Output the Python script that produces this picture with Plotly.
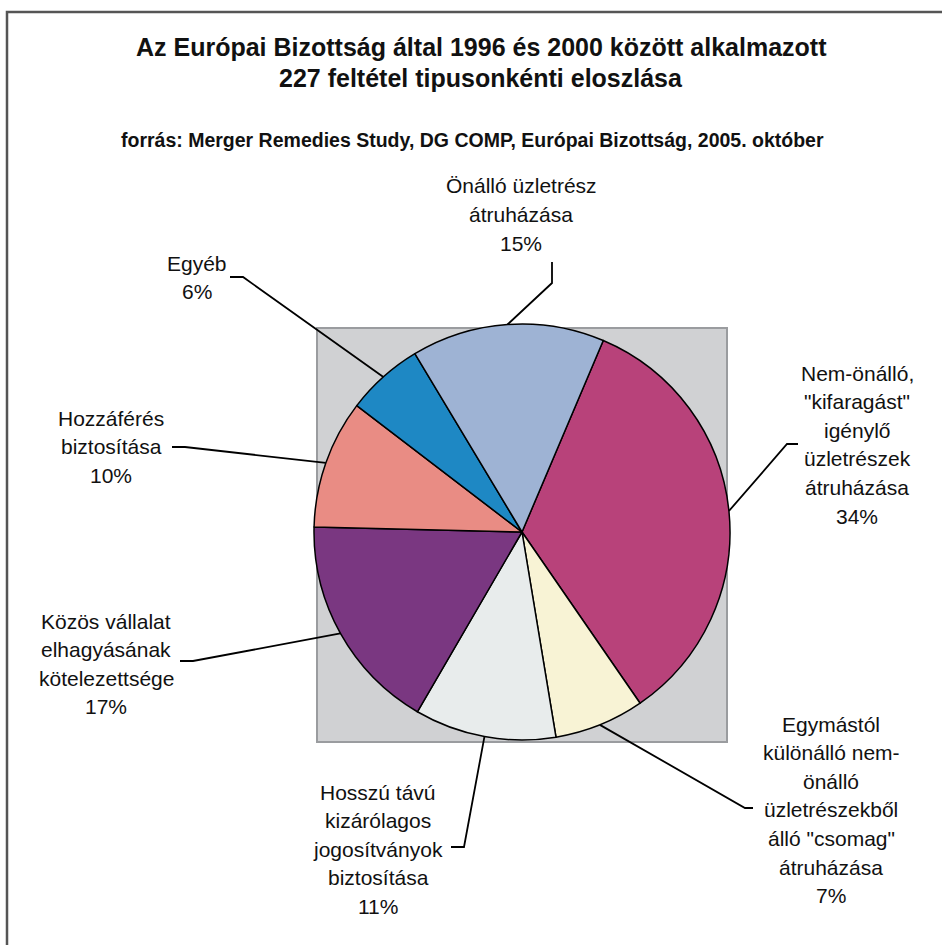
import math
import plotly.graph_objects as go

W, H = 942, 945

# ---- data ----
categories = [
    "Nem-önálló,<br>\"kifaragást\"<br>igénylő<br>üzletrészek<br>átruházása",
    "Egymástól<br>különálló nem-<br>önálló<br>üzletrészekből<br>álló \"csomag\"<br>átruházása",
    "Hosszú távú<br>kizárólagos<br>jogosítványok<br>biztosítása",
    "Közös vállalat<br>elhagyásának<br>kötelezettsége",
    "Hozzáférés<br>biztosítása",
    "Egyéb",
    "Önálló üzletrész<br>átruházása",
]
percent = [34, 7, 11, 17, 10, 6, 15]
colors = ["#B8427A", "#F8F3D5", "#E8ECEC", "#7A3781", "#E98C84", "#1E88C4", "#9EB3D4"]

title_lines = ["Az Európai Bizottság által 1996 és 2000 között alkalmazott",
               "227 feltétel tipusonkénti eloszlása"]
subtitle = "forrás: Merger Remedies Study, DG COMP, Európai Bizottság, 2005. október"

# ---- layout (pixel positions) ----
cx, cy, R = 522, 532, 208
rotation = 23
# label block: centre x, first line y
label_pos = [(857, 373), (831, 724), (378, 792), (106, 621), (111, 418), (197, 263), (521, 186)]
# leader: elbow point, end point
leader = [((787, 444), (798, 444)), ((745, 808), (753, 808)), ((464, 847), (451, 847)),
          ((193, 661), (180, 661)), ((185, 447), (172, 447)), ((243, 277), (230, 277)),
          ((552, 283), (552, 262))]
line_gap = 28.6
FONT = "Liberation Sans, Arial, sans-serif"


def px(x):
    return x / W


def py(y):
    return 1 - y / H


fig = go.Figure()
fig.add_trace(go.Pie(
    labels=[c.replace("<br>", " ") for c in categories],
    values=percent,
    sort=False,
    direction="clockwise",
    rotation=rotation,
    marker=dict(colors=colors, line=dict(color="#000000", width=1.5)),
    textinfo="none",
    hoverinfo="label+percent",
    showlegend=False,
    domain=dict(x=[px(cx - R), px(cx + R)], y=[py(cy + R), py(cy - R)]),
))

shapes = []
# outer frame (top & left)
shapes.append(dict(type="path", xref="paper", yref="paper",
                   path=f"M {px(7)},{py(H + 5)} L {px(7)},{py(12)} L {px(W + 5)},{py(12)}",
                   line=dict(color="#555555", width=2.5), layer="above"))
# grey plot area
shapes.append(dict(type="rect", xref="paper", yref="paper",
                   x0=px(317), x1=px(727), y0=py(742), y1=py(328),
                   fillcolor="#D0D1D3", line=dict(color="#9A9C9F", width=2), layer="below"))

annotations = []
total = sum(percent)
start = rotation
for i, (cat, v) in enumerate(zip(categories, percent)):
    span = v / total * 360
    mid = math.radians(start + span / 2)
    start += span
    ex, ey = cx + R * math.sin(mid), cy - R * math.cos(mid)
    (bx, by), (tx, ty) = leader[i]
    shapes.append(dict(type="path", xref="paper", yref="paper",
                       path=f"M {px(ex)},{py(ey)} L {px(bx)},{py(by)} L {px(tx)},{py(ty)}",
                       line=dict(color="#000000", width=1.8), layer="above"))
    lines = cat.split("<br>") + [f"{v}%"]
    lx, ly = label_pos[i]
    for k, t in enumerate(lines):
        annotations.append(dict(text=t, x=px(lx), y=py(ly + k * line_gap), xref="paper", yref="paper",
                                showarrow=False, xanchor="center", yanchor="middle",
                                font=dict(family=FONT, size=21, color="#111111")))

for k, t in enumerate(title_lines):
    annotations.append(dict(text=f"<b>{t}</b>", x=px(481), y=py(47 + k * 31), xref="paper", yref="paper",
                            showarrow=False, xanchor="center", yanchor="middle",
                            font=dict(family=FONT, size=25, color="#111111")))
annotations.append(dict(text=f"<b>{subtitle}</b>", x=px(472), y=py(140), xref="paper", yref="paper",
                        showarrow=False, xanchor="center", yanchor="middle",
                        font=dict(family=FONT, size=19.5, color="#111111")))

fig.update_layout(
    width=W, height=H,
    margin=dict(l=0, r=0, t=0, b=0),
    paper_bgcolor="#FFFFFF",
    plot_bgcolor="#FFFFFF",
    shapes=shapes,
    annotations=annotations,
)

fig.write_html("out.html", config={"displayModeBar": False},
               post_script="document.body.style.margin='0';document.body.style.overflow='hidden';")
